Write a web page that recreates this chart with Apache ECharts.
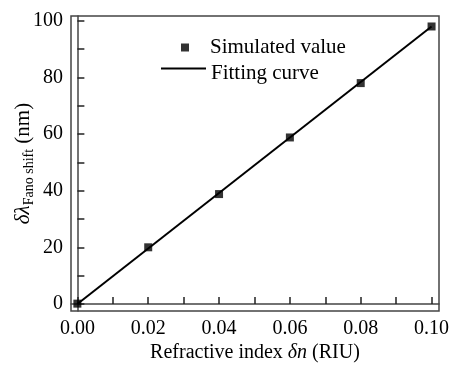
<!DOCTYPE html>
<html>
<head>
<meta charset="utf-8">
<script src="https://cdn.jsdelivr.net/npm/echarts@6/dist/echarts.min.js"></script>
<style>html,body{margin:0;padding:0;background:#fff}#c{width:451px;height:367px}</style>
</head>
<body>
<div id="c"></div>
<script>
var simX = [0.00, 0.02, 0.04, 0.06, 0.08, 0.10];
var simY = [0.1, 20.0, 38.8, 58.8, 78.0, 98.0];
var fitX = [0.00, 0.10];
var fitY = [0.0, 98.0];
var xTickLabels = [0.00, 0.02, 0.04, 0.06, 0.08, 0.10];
var xTicks = [0.00, 0.01, 0.02, 0.03, 0.04, 0.05, 0.06, 0.07, 0.08, 0.09, 0.10];
var yTickLabels = [0, 20, 40, 60, 80, 100];
var yTicks = [0, 10, 20, 30, 40, 50, 60, 70, 80, 90, 100];

var FONT = '"Liberation Serif","Times New Roman",serif';
var chart = echarts.init(document.getElementById('c'), null, {renderer: 'canvas'});
function pairs(xs, ys) { return xs.map(function (x, i) { return [x, ys[i]]; }); }

chart.setOption({
  animation: false,
  textStyle: {fontFamily: FONT, color: '#000'},
  grid: {left: 71, top: 16, right: 12, bottom: 56, show: true, borderColor: '#444', borderWidth: 1.5,
    outerBoundsMode: 'none', containLabel: false},
  legend: [
    {
      left: 181, top: 37, padding: 0, itemWidth: 8, itemHeight: 8, icon: 'rect',
      textStyle: {fontFamily: FONT, fontSize: 21, color: '#000', padding: [0, 0, 0, 16]},
      data: [{name: 'Simulated value', icon: 'rect'}]
    },
    {
      left: 161, top: 63, padding: 0, itemWidth: 45, itemHeight: 12,
      textStyle: {fontFamily: FONT, fontSize: 21, color: '#000'},
      data: [{name: 'Fitting curve', icon: 'path://M0,12M0,0h45v2h-45z'}]
    }
  ],
  xAxis: {
    type: 'value', min: -0.0018, max: 0.1021,
    name: '{n|Refractive index }{i|δn}{n| (RIU)}', nameLocation: 'middle', nameGap: 32,
    nameMoveOverlap: false,
    nameTextStyle: {rich: {
      n: {fontFamily: FONT, fontSize: 20, color: '#000'},
      i: {fontFamily: FONT, fontSize: 20, fontStyle: 'italic', color: '#000'}
    }},
    axisLine: {show: true, lineStyle: {color: '#444', width: 1.5}},
    axisTick: {show: true, inside: true, length: 7, customValues: xTicks, lineStyle: {color: '#222', width: 1.5}},
    axisLabel: {customValues: xTickLabels, fontFamily: FONT, fontSize: 20, color: '#000', margin: 8,
      formatter: function (v) { return v.toFixed(2); }},
    splitLine: {show: false}
  },
  yAxis: {
    type: 'value', min: -2.5, max: 101.7,
    name: '{a|δλ}{s|Fano shift}{b| (nm)}', nameLocation: 'middle', nameGap: 33, nameRotate: 90,
    nameMoveOverlap: false,
    nameTextStyle: {rich: {
      a: {fontFamily: FONT, fontSize: 21, fontStyle: 'italic', color: '#000', lineHeight: 30, verticalAlign: 'middle'},
      s: {fontFamily: FONT, fontSize: 14, color: '#000', lineHeight: 30, verticalAlign: 'bottom', padding: [0, 0, 2, 0]},
      b: {fontFamily: FONT, fontSize: 21, color: '#000', lineHeight: 30, verticalAlign: 'middle'}
    }},
    axisLine: {show: true, lineStyle: {color: '#444', width: 1.5}},
    axisTick: {show: true, inside: true, length: 7, customValues: yTicks, lineStyle: {color: '#222', width: 1.5}},
    axisLabel: {customValues: yTickLabels, fontFamily: FONT, fontSize: 20, color: '#000', margin: 8},
    splitLine: {show: false}
  },
  series: [
    {name: 'Fitting curve', type: 'line', data: pairs(fitX, fitY), symbol: 'none',
      lineStyle: {color: '#000', width: 2}, itemStyle: {color: '#000'}, z: 2},
    {name: 'Simulated value', type: 'scatter', data: pairs(simX, simY), symbol: 'rect', symbolSize: 8,
      itemStyle: {color: '#000'}, z: 3}
  ]
});
</script>
</body>
</html>
